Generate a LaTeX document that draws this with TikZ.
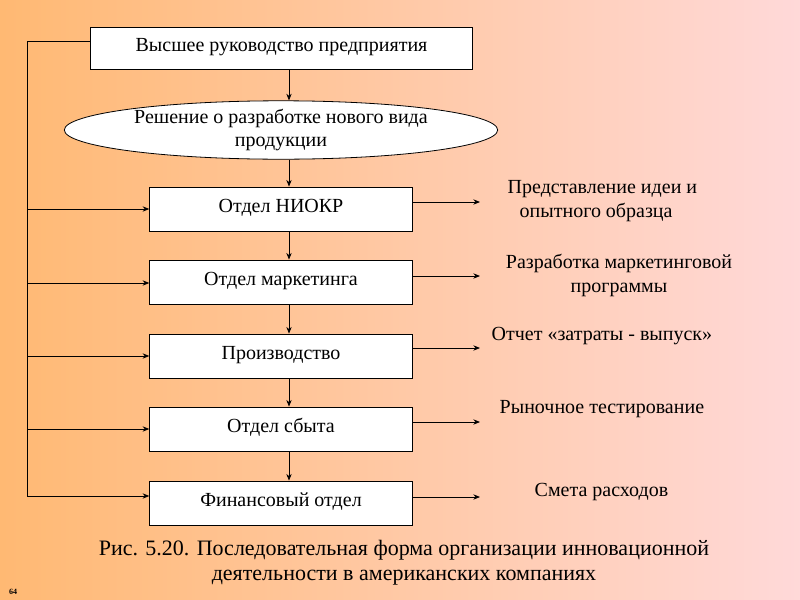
\documentclass[tikz,border=0pt]{standalone}
\usepackage{fontspec}
\setmainfont{Liberation Serif}
\usetikzlibrary{shapes.geometric,arrows.meta}
\begin{document}
\begin{tikzpicture}[x=0.75pt,y=-0.75pt,
  box/.style={draw,fill=white,line width=0.6pt,inner sep=0,font=\fontsize{15}{17}\selectfont},
  lbl/.style={align=left,font=\fontsize{15}{18}\selectfont,anchor=west},
  arr/.style={-{Stealth[length=5pt,width=4pt]},line width=0.6pt},
  ln/.style={line width=0.6pt}]
\shade[left color=orange!55!white, right color=pink!60!white] (0,0) rectangle (800,600);
\useasboundingbox (0,0) rectangle (800,600);
\node[box,minimum width=287pt,minimum height=31.5pt] (top) at (281.5,48) {\raisebox{5pt}{Высшее руководство предприятия}};
\node[box,ellipse,minimum width=325pt,minimum height=43pt,align=center,inner sep=0] (dec) at (281,130) {Решение о разработке нового вида\\продукции};
\foreach \n/\y/\t in {b1/209/Отдел НИОКР,b2/282/Отдел маркетинга,b3/356/Производство,b4/429/Отдел сбыта,b5/503/Финансовый отдел}{
  \node[box,minimum width=197pt,minimum height=33pt] (\n) at (281,\y) {\raisebox{5pt}{\t}};}
\draw[arr] (top.south -| 289,0) -- (dec.north -| 289,0);
\draw[arr] (dec.south -| 289,0) -- (b1.north -| 289,0);
\draw[arr] (b1.south -| 289,0) -- (b2.north -| 289,0);
\draw[arr] (b2.south -| 289,0) -- (b3.north -| 289,0);
\draw[arr] (b3.south -| 289,0) -- (b4.north -| 289,0);
\draw[arr] (b4.south -| 289,0) -- (b5.north -| 289,0);
\coordinate (lt) at (27,41);
\coordinate (lb) at (27,496);
\draw[ln] (top.west |- lt) -- (lt) -- (lb);
\foreach \b/\y in {b1/209,b2/283,b3/356,b4/429,b5/496}{
  \draw[arr] (27,\y) -- (\b.west |- 0,\y);}
\foreach \b/\y/\t in {b1/202/t1,b2/276/t2,b3/348/t3,b4/422/t4,b5/497/t5}{
  \coordinate (\t) at (480,\y);
  \draw[arr] (\b.east |- 0,\y) -- (\t);}
\node[lbl] (l1) at (503,201) {Представление идеи и\\\hspace*{9pt}опытного образца};
\node[lbl,align=center,anchor=center] (l2) at (619,275) {Разработка маркетинговой\\программы};
\node[lbl] (l3) at (487,336) {Отчет «затраты - выпуск»};
\node[lbl] (l4) at (495,409) {Рыночное тестирование};
\node[lbl] (l5) at (530,492) {Смета расходов};
\node[align=center,font=\fontsize{16.5}{19}\selectfont] (cap) at (404,563) {Рис. 5.20. Последовательная форма организации инновационной\\деятельности в американских компаниях};
\node[font=\fontsize{6}{7}\bfseries\selectfont] (pg) at (13,592) {64};
\end{tikzpicture}
\end{document}
